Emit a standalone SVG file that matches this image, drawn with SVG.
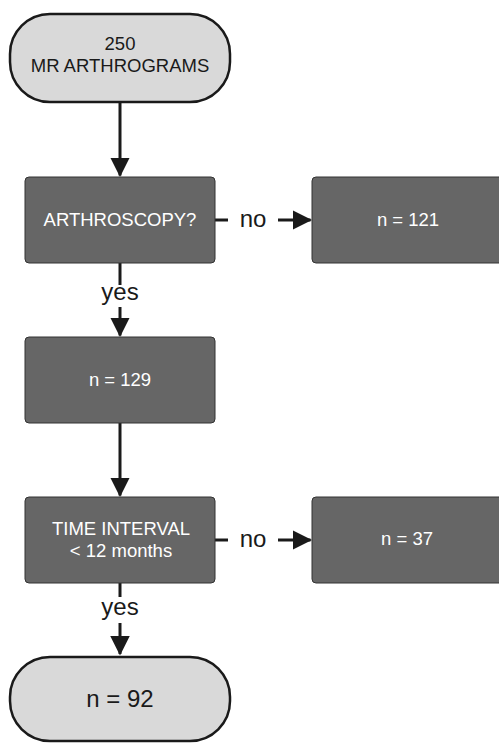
<svg xmlns="http://www.w3.org/2000/svg" width="499" height="743" viewBox="0 0 499 743">
<style>
.pill{fill:#d9d9d9;stroke:#1a1a1a;stroke-width:2.5}
.box{fill:#666666;stroke:#333333;stroke-width:1}
.wt{fill:#ffffff;font-family:"Liberation Sans",Arial,sans-serif;font-size:18.5px;text-anchor:middle}
.bt{fill:#1a1a1a;font-family:"Liberation Sans",Arial,sans-serif;font-size:18.5px;text-anchor:middle}
.lbl{fill:#1a1a1a;font-family:"Liberation Sans",Arial,sans-serif;font-size:24px;text-anchor:middle}
.ln{stroke:#1a1a1a;stroke-width:3;fill:none}
</style>
<defs>
<marker id="ah" markerWidth="6.5" markerHeight="6.5" refX="6" refY="3.25" orient="auto" markerUnits="strokeWidth">
<path d="M0,0 L6.5,3.25 L0,6.5 Z" fill="#1a1a1a"/>
</marker>
</defs>
<g id="connectors">
<line class="ln" x1="120" y1="102" x2="120" y2="175.5" marker-end="url(#ah)"/>
<line class="ln" x1="215" y1="220" x2="228" y2="220"/>
<text class="lbl" x="253" y="227">no</text>
<line class="ln" x1="278" y1="220" x2="310.5" y2="220" marker-end="url(#ah)"/>
<line class="ln" x1="120" y1="263" x2="120" y2="285"/>
<text class="lbl" x="120" y="300">yes</text>
<line class="ln" x1="120" y1="307" x2="120" y2="335.5" marker-end="url(#ah)"/>
<line class="ln" x1="120" y1="423" x2="120" y2="495.5" marker-end="url(#ah)"/>
<line class="ln" x1="215" y1="540" x2="228" y2="540"/>
<text class="lbl" x="253" y="547">no</text>
<line class="ln" x1="278" y1="540" x2="310.5" y2="540" marker-end="url(#ah)"/>
<line class="ln" x1="120" y1="583" x2="120" y2="597"/>
<text class="lbl" x="120" y="615">yes</text>
<line class="ln" x1="120" y1="623" x2="120" y2="654" marker-end="url(#ah)"/>
</g>
<g id="start">
<rect class="pill" x="10" y="14" width="220" height="88" rx="40" ry="40"/>
<text class="bt" x="120" y="50">250</text>
<text class="bt" x="120" y="72">MR ARTHROGRAMS</text>
</g>
<g id="arthroscopy">
<rect class="box" x="25" y="177" width="190" height="86" rx="4"/>
<text class="wt" x="120" y="226">ARTHROSCOPY?</text>
</g>
<g id="n121">
<rect class="box" x="312" y="177" width="192" height="86" rx="4"/>
<text class="wt" x="408" y="226">n = 121</text>
</g>
<g id="n129">
<rect class="box" x="25" y="337" width="190" height="86" rx="4"/>
<text class="wt" x="120" y="386">n = 129</text>
</g>
<g id="timeinterval">
<rect class="box" x="25" y="497" width="190" height="86" rx="4"/>
<text class="wt" x="121" y="535">TIME INTERVAL</text>
<text class="wt" x="121" y="557">&lt; 12 months</text>
</g>
<g id="n37">
<rect class="box" x="312" y="497" width="192" height="86" rx="4"/>
<text class="wt" x="407" y="545">n = 37</text>
</g>
<g id="end">
<rect class="pill" x="10" y="657" width="220" height="84" rx="40" ry="40"/>
<text class="lbl" x="120" y="707">n = 92</text>
</g>
</svg>
